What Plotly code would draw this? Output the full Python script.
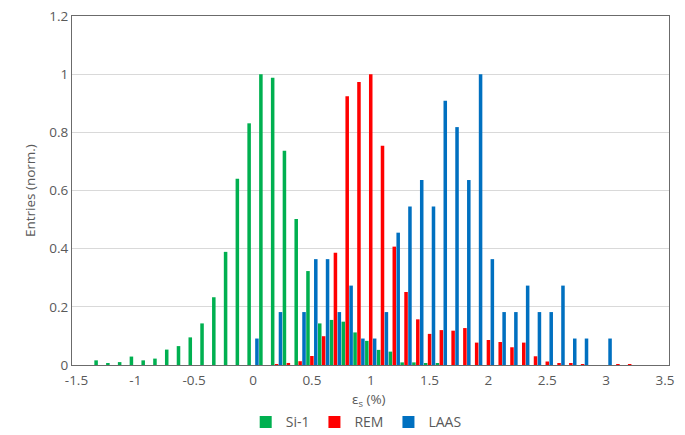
import plotly.graph_objects as go

# Bin centres (strain, %)
si_bins = [-1.3, -1.2, -1.1, -1.0, -0.9, -0.8, -0.7, -0.6, -0.5, -0.4, -0.3, -0.2, -0.1,
           0.0, 0.1, 0.2, 0.3, 0.4, 0.5, 0.6, 0.7, 0.8, 0.9, 1.0, 1.1, 1.2, 1.3, 1.4, 1.5, 1.6]
si_vals = [0.016, 0.006, 0.010, 0.029, 0.016, 0.022, 0.053, 0.065, 0.095, 0.143, 0.233, 0.389, 0.640,
           0.831, 1.000, 0.988, 0.737, 0.502, 0.323, 0.143, 0.155, 0.149, 0.112, 0.083, 0.052, 0.046,
           0.009, 0.009, 0.005, 0.005]

rem_bins = [0.2, 0.3, 0.4, 0.5, 0.6, 0.7, 0.8, 0.9, 1.0, 1.1, 1.2, 1.3, 1.4, 1.5, 1.6, 1.7, 1.8,
            1.9, 2.0, 2.1, 2.2, 2.3, 2.4, 2.5, 2.6, 2.7, 2.8, 3.1, 3.2]
rem_vals = [0.003, 0.007, 0.013, 0.031, 0.099, 0.386, 0.924, 0.973, 1.000, 0.754, 0.407, 0.251, 0.157,
            0.107, 0.120, 0.118, 0.127, 0.077, 0.086, 0.079, 0.061, 0.077, 0.030, 0.012, 0.006, 0.006,
            0.003, 0.002, 0.002]

laas_bins = [0.0, 0.2, 0.4, 0.5, 0.6, 0.7, 0.8, 0.9, 1.0, 1.1, 1.2, 1.3, 1.4, 1.5, 1.6, 1.7, 1.8,
             1.9, 2.0, 2.1, 2.2, 2.3, 2.4, 2.5, 2.6, 2.7, 2.8, 3.0]
laas_vals = [0.091, 0.182, 0.182, 0.364, 0.364, 0.182, 0.273, 0.091, 0.091, 0.182, 0.455, 0.545, 0.636,
             0.545, 0.909, 0.818, 0.636, 1.000, 0.364, 0.182, 0.182, 0.273, 0.182, 0.182, 0.273, 0.091,
             0.091, 0.091]

x_tick_vals = [-1.5, -1.0, -0.5, 0.0, 0.5, 1.0, 1.5, 2.0, 2.5, 3.0, 3.5]
x_tick_text = ["-1.5", "-1", "-0.5", "0", "0.5", "1", "1.5", "2", "2.5", "3", "3.5"]
y_tick_vals = [0, 0.2, 0.4, 0.6, 0.8, 1.0, 1.2]
y_tick_text = ["0", "0.2", "0.4", "0.6", "0.8", "1", "1.2"]

series_names = ["Si-1", "REM", "LAAS"]
series_colors = ["#00B050", "#FF0000", "#0070C0"]

BW = 0.03       # bar width
STEP = 0.0332   # spacing between series within a bin

fig = go.Figure()
for i, (name, xs, ys, col) in enumerate(zip(series_names, [si_bins, rem_bins, laas_bins],
                                             [si_vals, rem_vals, laas_vals], series_colors)):
    fig.add_trace(go.Bar(
        x=xs, y=ys, name=name,
        marker=dict(color=col, line=dict(width=0)),
        width=BW, offset=(i - 1) * STEP - BW / 2,
    ))

text_color = "#595959"
font_family = "Open Sans, Liberation Sans, sans-serif"

fig.update_layout(
    width=685, height=435,
    margin=dict(l=72, r=16, t=16, b=70, autoexpand=False),
    paper_bgcolor="white", plot_bgcolor="white",
    barmode="overlay",
    font=dict(family=font_family, size=13, color=text_color),
    showlegend=True,
    legend=dict(orientation="h", x=0.52, xanchor="center", xref="container",
                y=0.029, yanchor="middle", yref="container",
                font=dict(size=14, color=text_color), itemwidth=30, tracegroupgap=0,
                bgcolor="rgba(0,0,0,0)"),
    xaxis=dict(range=[-1.538, 3.534], tickvals=x_tick_vals, ticktext=x_tick_text,
               showgrid=False, zeroline=False, showline=True, mirror=True,
               linecolor="#6b6b6b", linewidth=1.3, ticks="", ticklen=0, automargin=False,
               ticklabelstandoff=3,
               tickfont=dict(size=13.5, color=text_color)),
    yaxis=dict(range=[0, 1.2], tickvals=y_tick_vals, ticktext=y_tick_text,
               showgrid=True, gridcolor="#d9d9d9", gridwidth=1, zeroline=False,
               showline=True, mirror=True, linecolor="#6b6b6b", linewidth=1.3, automargin=False,
               ticks="", tickfont=dict(size=13.5, color=text_color)),
    annotations=[
        dict(text="ε<sub>s</sub> (%)", xref="paper", yref="paper", x=0.498, y=-0.1,
             xanchor="center", yanchor="middle", showarrow=False,
             font=dict(size=13.5, color=text_color)),
        dict(text="Entries (norm.)", xref="paper", yref="paper", x=-0.071, y=0.5,
             xanchor="center", yanchor="middle", showarrow=False, textangle=-90,
             font=dict(size=13.5, color=text_color)),
    ],
)

fig.write_html("out.html", config={"displayModeBar": False},
               post_script="document.body.style.margin='0';")
